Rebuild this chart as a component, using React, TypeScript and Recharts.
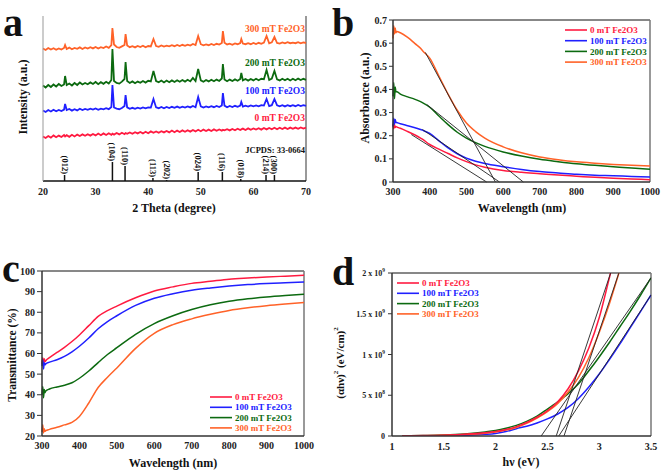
import React from 'react';
import { LineChart, Line, XAxis, YAxis, ReferenceLine } from 'recharts';

const FONT = '"Liberation Serif", "Times New Roman", serif';
const RED = '#ff1a40';
const BLUE = '#2020ff';
const GREEN = '#0c6a10';
const ORANGE = '#ff6228';

const seriesNames = ['0 mT Fe2O3', '100 mT Fe2O3', '200 mT Fe2O3', '300 mT Fe2O3'];
const seriesColors = [RED, BLUE, GREEN, ORANGE];

// ---- panel a: XRD (intensity in arbitrary offset units) ----
const xrdTheta = [
  20, 20.5, 21, 21.5, 22, 22.5, 23, 23.5, 24, 24.2,
  24.5, 25, 25.5, 26, 26.5, 27, 27.5, 28, 28.5, 29,
  29.5, 30, 30.5, 31, 31.5, 32, 32.5, 33, 33.2, 33.5,
  34, 34.5, 35, 35.5, 35.7, 36, 36.5, 37, 37.5, 38,
  38.5, 39, 39.5, 40, 40.5, 41, 41.5, 42, 42.5, 43,
  43.5, 44, 44.5, 45, 45.5, 46, 46.5, 47, 47.5, 48,
  48.5, 49, 49.5, 50, 50.5, 51, 51.5, 52, 52.5, 53,
  53.5, 54, 54.2, 54.5, 55, 55.5, 56, 56.5, 57, 57.5,
  57.7, 58, 58.5, 59, 59.5, 60, 60.5, 61, 61.5, 62,
  62.5, 63, 63.5, 64, 64.5, 65, 65.5, 66, 66.5, 67,
  67.5, 68, 68.5, 69, 69.5, 70,
];
const xrd300 = [
  132.5, 131, 133, 131.5, 132.8, 131.2, 132.6, 131.4, 133, 136,
  132, 133.4, 131.8, 133, 132.2, 133.6, 132, 133.5, 132.4, 133.8,
  132.6, 134, 132.5, 133.8, 133, 134.5, 133.2, 136, 153, 136.5,
  134, 133.2, 134.6, 136, 147, 135.5, 133.8, 134.8, 133.6, 135,
  134, 135.2, 133.8, 135, 134.6, 142, 135, 134.2, 135.6, 134.4,
  135.4, 134.6, 135.8, 134.8, 136, 135, 136.2, 135.2, 136.4, 135.4,
  137, 136, 145, 136.8, 135.6, 136.6, 135.8, 137, 136, 137.2,
  136.4, 138, 150, 138.2, 136.6, 137.4, 136.2, 137.6, 136.8, 138,
  142, 137.4, 136.8, 137.8, 136.8, 138, 137, 138.2, 137.2, 138.4,
  145, 137.6, 138.6, 144, 138, 137.4, 138.6, 137.6, 138.8, 137.8,
  138.4, 137.8, 138.8, 137.6, 138.6, 138,
];
const xrd200 = [
  95.5, 93.5, 96, 94, 96.5, 94.5, 97, 95, 96.5, 105,
  96, 97.5, 95.5, 98, 96, 98.5, 96.5, 98, 96.8, 98.6,
  97, 99, 96.8, 98.8, 97.2, 99.2, 97.4, 101, 132, 100,
  98, 97.4, 99.4, 102, 119, 100, 98, 99.6, 97.8, 99.4,
  98.2, 100, 98.4, 100.2, 99.6, 110, 100, 98.8, 100.4, 98.6,
  100.4, 98.8, 100.6, 99, 100.8, 99.2, 101, 99.4, 101.2, 99.6,
  103, 100, 112, 100.6, 99.2, 101, 99.6, 101.2, 99.8, 101.4,
  100, 102.5, 117, 101.5, 99.8, 101.4, 100, 101.6, 100.2, 102,
  108, 100.6, 102, 100.4, 102, 100.6, 102.2, 100.8, 102.2, 101.8,
  111, 101, 102.4, 110, 101.6, 100.6, 102.2, 100.8, 102.2, 100.6,
  102.2, 100.8, 102.4, 101, 102.2, 101.2,
];
const xrd100 = [
  70.5, 69, 71, 69.5, 71.2, 69.8, 71, 70, 71.4, 77,
  71, 72, 70.4, 71.8, 70.6, 72.2, 71, 72, 71.2, 72.4,
  71.4, 72.6, 71.2, 72.4, 71.6, 72.8, 71.8, 74, 96, 73.5,
  72.4, 71.8, 73, 75, 86, 73.6, 72.2, 73.2, 72.2, 73.4,
  72.4, 73.6, 72.6, 73.6, 73.4, 82, 73.6, 72.8, 74, 72.8,
  74, 73, 74.2, 73.2, 74.4, 73.2, 74.4, 73.4, 74.6, 73.6,
  75, 73.8, 84, 74.6, 73.4, 74.6, 73.6, 74.8, 73.8, 75,
  74, 75.5, 88, 75.4, 73.8, 75, 74, 75.2, 74.2, 75.4,
  79, 74.4, 75.4, 74.4, 75.6, 74.6, 75.6, 74.6, 75.8, 75.4,
  82, 74.8, 75.8, 82, 75.6, 74.6, 75.8, 74.6, 75.8, 74.8,
  75.8, 74.8, 76, 75, 75.8, 75.2,
];
const xrd0 = [
  44.5, 43, 45, 43.4, 45.6, 43.8, 45.4, 44, 46, 44.6,
  45.8, 44.2, 46.2, 44.6, 46.4, 45, 46.6, 45.2, 46.8, 45.4,
  47, 45.6, 47.4, 45.8, 47.6, 46, 47.8, 46.2, 47.4, 46.4,
  48, 46.6, 48.2, 46.8, 48, 47.2, 48.6, 47.2, 48.8, 47.6,
  49, 47.6, 49.2, 47.8, 49.6, 48.2, 49.6, 48.2, 49.8, 48.6,
  50, 48.6, 50.4, 48.8, 50.4, 49, 50.6, 49.2, 50.8, 49.4,
  51, 49.6, 51.2, 49.8, 51.4, 50, 51.4, 50, 51.6, 50.2,
  51.6, 50.4, 51.2, 50.6, 51.8, 50.6, 52, 50.8, 52.2, 51,
  51.6, 52.4, 51, 52.6, 51.2, 52.6, 51.4, 52.8, 51.4, 53,
  51.6, 53, 51.8, 53.2, 51.8, 53.2, 52, 53.4, 52, 53.4,
  52.2, 53.4, 52.2, 53.6, 52.4, 53.4,
];
const xrdTicks = [20, 30, 40, 50, 60, 70];
const hklTheta = [24.1, 33.2, 35.6, 40.9, 43.5, 49.5, 54.1, 57.6, 62.4, 64.0];
const hklHeight = [6, 19, 15, 3, 1, 9, 9, 2, 6, 6];
const hklLabels = ['(012)', '(104)', '(110)', '(113)', '(202)', '(024)', '(116)', '(018)', '(214)', '(300)'];

// ---- panel b: absorbance ----
const absWl = [300, 302, 304, 306, 308, 310, 320, 340, 360, 375, 380, 400, 425, 450, 475, 500, 525, 550, 600, 650, 700, 750, 800, 850, 900, 950, 1000];
const abs0 = [0.25, 0.23, 0.248, 0.235, 0.24, 0.238, 0.232, 0.218, 0.203, 0.19, 0.185, 0.162, 0.142, 0.123, 0.104, 0.088, 0.074, 0.064, 0.05, 0.042, 0.036, 0.03, 0.025, 0.02, 0.016, 0.013, 0.01];
const abs100 = [0.24, 0.275, 0.25, 0.27, 0.258, 0.257, 0.252, 0.243, 0.234, 0.227, 0.224, 0.21, 0.178, 0.147, 0.122, 0.103, 0.09, 0.08, 0.066, 0.054, 0.045, 0.039, 0.033, 0.029, 0.027, 0.024, 0.022];
const abs200 = [0.37, 0.43, 0.36, 0.41, 0.39, 0.39, 0.38, 0.368, 0.357, 0.347, 0.343, 0.323, 0.285, 0.248, 0.215, 0.19, 0.17, 0.154, 0.13, 0.112, 0.098, 0.088, 0.079, 0.072, 0.066, 0.06, 0.055];
const abs300 = [0.62, 0.675, 0.64, 0.665, 0.645, 0.65, 0.645, 0.625, 0.598, 0.578, 0.568, 0.535, 0.458, 0.38, 0.31, 0.255, 0.218, 0.19, 0.152, 0.126, 0.108, 0.096, 0.087, 0.081, 0.076, 0.072, 0.069];
const absTicks = [0, 0.1, 0.2, 0.3, 0.4, 0.5, 0.6, 0.7];
const wlTicks = [300, 400, 500, 600, 700, 800, 900, 1000];
// tangent lines: [start wavelength, start absorbance, x-intercept]
const absTangents = [
  [350, 0.205, 555],
  [380, 0.227, 590],
  [392, 0.335, 655],
  [388, 0.56, 579],
];

// ---- panel c: transmittance ----
const trWl = [300, 302, 304, 306, 308, 310, 320, 340, 360, 380, 400, 425, 450, 475, 500, 550, 600, 650, 700, 750, 800, 850, 900, 950, 1000];
const tr0 = [55, 58, 55.5, 57.5, 56, 56.5, 58, 60.5, 63, 65.8, 69, 73.5, 78, 80.8, 83, 87, 90.3, 92.3, 94, 95, 96, 96.6, 97.1, 97.5, 97.9];
const tr100 = [54, 57, 52.5, 55.5, 54.5, 55, 55.8, 57, 58.6, 60.8, 63.5, 67.5, 72, 75.5, 78.3, 83.3, 86.8, 89, 90.7, 91.8, 92.7, 93.4, 93.9, 94.3, 94.7];
const tr200 = [40, 44, 38.5, 42.5, 41, 41.8, 42.8, 43.8, 44.6, 45.8, 48, 51.5, 55.6, 59.5, 62.8, 69.3, 74.5, 78.3, 81.3, 83.6, 85.3, 86.5, 87.4, 88.1, 88.7];
const tr300 = [22, 25.5, 21.5, 23.5, 22.3, 22.6, 23.2, 24.2, 25.4, 26.6, 29.5, 36, 43.5, 48.5, 53, 62.5, 69.8, 74, 76.8, 79, 80.9, 82.2, 83.2, 84, 84.7];
const trTicks = [20, 30, 40, 50, 60, 70, 80, 90, 100];

// ---- panel d: Tauc plot, (ahv)^2 in units of 1e8 ----
const evShort0 = [1.1, 1.3, 1.5, 1.7, 1.9, 2.0, 2.1, 2.2, 2.3, 2.4, 2.5, 2.6, 2.7, 2.8, 2.9, 3.0, 3.1, 3.11];
const tauc0 = [0.03, 0.05, 0.1, 0.2, 0.4, 0.55, 0.8, 1.15, 1.65, 2.3, 3.1, 4.2, 5.8, 8.0, 10.8, 14.5, 19.5, 20];
const evShort300 = [1.1, 1.3, 1.5, 1.7, 1.9, 2.0, 2.1, 2.2, 2.3, 2.4, 2.5, 2.6, 2.7, 2.8, 2.9, 3.0, 3.1, 3.19];
const tauc300 = [0.02, 0.04, 0.08, 0.17, 0.35, 0.5, 0.72, 1.05, 1.55, 2.2, 3.0, 4.0, 5.4, 7.2, 9.6, 12.7, 16.3, 20];
const evFull = [1.1, 1.3, 1.5, 1.7, 1.9, 2.0, 2.1, 2.2, 2.3, 2.4, 2.5, 2.6, 2.7, 2.8, 2.9, 3.0, 3.1, 3.2, 3.3, 3.4, 3.5];
const tauc200 = [0.02, 0.06, 0.12, 0.25, 0.5, 0.68, 0.95, 1.3, 1.8, 2.45, 3.3, 4.2, 5.2, 6.4, 8.0, 9.7, 11.5, 13.4, 15.3, 17.3, 19.4];
const tauc100 = [0, 0.01, 0.03, 0.08, 0.2, 0.32, 0.55, 0.9, 1.2, 1.6, 2.1, 2.7, 3.5, 4.6, 6.0, 7.6, 9.4, 11.3, 13.3, 15.3, 17.3];
const evTicks = [1, 1.5, 2, 2.5, 3, 3.5];
const taucTicks = [0, 5, 10, 15, 20];
const taucMant = ['0', '5', '1', '1.5', '2'];
const taucExp = ['', '8', '9', '9', '9'];
// tangent lines: [x-intercept, end eV, end value]
const taucTangents = [
  [2.585, 3.11, 20],
  [2.61, 3.5, 17.3],
  [2.44, 3.5, 19.4],
  [2.66, 3.19, 20],
];

const tickStyle = { fill: '#222', fontSize: 10, fontWeight: 700, fontFamily: FONT };
const bold = (size: number) => ({ fontFamily: FONT, fontSize: size, fontWeight: 700 });

const HklLabel = (props: any) => {
  const vb = props.viewBox || {};
  return (
    <text
      transform={`translate(${vb.x},${vb.y - 1}) rotate(90)`}
      textAnchor="end"
      dominantBaseline="central"
      fill="#111"
      style={bold(8.5)}
    >
      {props.value}
    </text>
  );
};

const TaucTick = (props: any) => {
  const { x, y, payload } = props;
  const i = taucTicks.indexOf(payload.value);
  return (
    <text x={x} y={y} dy={3} textAnchor="end" fill="#222" style={bold(8)}>
      {taucMant[i]}
      {i > 0 ? ' x 10' : ''}
      {i > 0 ? (
        <tspan dy={-4} fontSize={5.5}>
          {taucExp[i]}
        </tspan>
      ) : null}
    </text>
  );
};

const Legend4 = ({ x, y, gap }: { x: number; y: number; gap: number }) => (
  <g>
    {seriesNames.map((n, i) => (
      <g key={n}>
        <line x1={x} x2={x + 22} y1={y + i * gap} y2={y + i * gap} stroke={seriesColors[i]} strokeWidth={1.6} />
        <text x={x + 25} y={y + i * gap} dy="0.35em" fill={seriesColors[i]} style={bold(9)}>
          {n}
        </text>
      </g>
    ))}
  </g>
);

const VText = ({ x, y, size, children }: any) => (
  <text transform={`translate(${x},${y}) rotate(-90)`} textAnchor="middle" dominantBaseline="central" fill="#111" style={bold(size)}>
    {children}
  </text>
);

export default function App() {
  const xrdData = xrdTheta.map((t, i) => ({ theta: t, s0: xrd0[i], s100: xrd100[i], s200: xrd200[i], s300: xrd300[i] }));
  const absData = absWl.map((w, i) => ({ w, a0: abs0[i], a100: abs100[i], a200: abs200[i], a300: abs300[i] }));
  const trData = trWl.map((w, i) => ({ w, t0: tr0[i], t100: tr100[i], t200: tr200[i], t300: tr300[i] }));
  const d0 = evShort0.map((e, i) => ({ ev: e, v: tauc0[i] }));
  const d300 = evShort300.map((e, i) => ({ ev: e, v: tauc300[i] }));
  const d100 = evFull.map((e, i) => ({ ev: e, v: tauc100[i] }));
  const d200 = evFull.map((e, i) => ({ ev: e, v: tauc200[i] }));

  const axisLine = { stroke: '#333', strokeWidth: 1.5 };

  return (
    <div style={{ position: 'absolute', left: 0, top: 0, width: 661, height: 471, background: '#fff' }}>
      {/* panel a */}
      <div style={{ position: 'absolute', left: 0, top: 0 }}>
        <LineChart width={330} height={215} data={xrdData} margin={{ top: 16, right: 24, bottom: 0, left: 0 }}>
          <XAxis dataKey="theta" type="number" domain={[20, 70]} ticks={xrdTicks} interval={0} height={34}
            tickLine={false} tickSize={0} tickMargin={7} axisLine={{ stroke: '#111', strokeWidth: 1.5 }} tick={tickStyle} />
          <YAxis type="number" domain={[0, 165]} allowDataOverflow width={43} tick={false} tickLine={false}
            axisLine={{ stroke: '#999', strokeWidth: 1 }} />
          <ReferenceLine x={70} stroke="#777" strokeWidth={1.5} />
          {hklTheta.map((t, i) => (
            <ReferenceLine key={hklLabels[i]} segment={[{ x: t, y: 0 }, { x: t, y: hklHeight[i] }]}
              stroke="#111" strokeWidth={1.5} label={<HklLabel value={hklLabels[i]} />} />
          ))}
          <Line dataKey="s0" type="linear" stroke={RED} strokeWidth={1.8} dot={false} isAnimationActive={false} />
          <Line dataKey="s100" type="linear" stroke={BLUE} strokeWidth={1.8} dot={false} isAnimationActive={false} />
          <Line dataKey="s200" type="linear" stroke={GREEN} strokeWidth={1.8} dot={false} isAnimationActive={false} />
          <Line dataKey="s300" type="linear" stroke={ORANGE} strokeWidth={1.8} dot={false} isAnimationActive={false} />
        </LineChart>
      </div>

      {/* panel b */}
      <div style={{ position: 'absolute', left: 330, top: 0 }}>
        <LineChart width={331} height={215} data={absData} margin={{ top: 20, right: 11, bottom: 0, left: 0 }}>
          <XAxis dataKey="w" type="number" domain={[300, 1000]} ticks={wlTicks} interval={0} height={33}
            tickLine={false} tickSize={0} tickMargin={6} axisLine={axisLine} tick={tickStyle} />
          <YAxis type="number" domain={[0, 0.7]} allowDataOverflow ticks={absTicks} interval={0} width={63}
            tickSize={4} tickMargin={2} tickLine={{ stroke: '#333' }} axisLine={axisLine} tick={tickStyle}
            tickFormatter={(v: number) => (v === 0 ? '0' : v.toFixed(1))} />
          <ReferenceLine y={0.7} stroke="#111" strokeWidth={1} />
          <ReferenceLine x={1000} stroke="#777" strokeWidth={1.5} />
          <Line dataKey="a0" type="monotone" stroke={RED} strokeWidth={1.5} dot={false} isAnimationActive={false} />
          <Line dataKey="a100" type="monotone" stroke={BLUE} strokeWidth={1.5} dot={false} isAnimationActive={false} />
          <Line dataKey="a200" type="monotone" stroke={GREEN} strokeWidth={1.5} dot={false} isAnimationActive={false} />
          <Line dataKey="a300" type="monotone" stroke={ORANGE} strokeWidth={1.5} dot={false} isAnimationActive={false} />
          {absTangents.map((t, i) => (
            <ReferenceLine key={'bt' + i} segment={[{ x: t[0], y: t[1] }, { x: t[2], y: 0 }]} stroke="#222" strokeWidth={0.9} />
          ))}
        </LineChart>
      </div>

      {/* panel c */}
      <div style={{ position: 'absolute', left: 0, top: 235 }}>
        <LineChart width={330} height={236} data={trData} margin={{ top: 36, right: 26, bottom: 0, left: 0 }}>
          <XAxis dataKey="w" type="number" domain={[300, 1000]} ticks={wlTicks} interval={0} height={35}
            tickLine={false} tickSize={0} tickMargin={6} axisLine={axisLine} tick={tickStyle} />
          <YAxis type="number" domain={[20, 100]} allowDataOverflow ticks={trTicks} interval={0} width={42}
            tickSize={5} tickMargin={2} tickLine={{ stroke: '#333' }} axisLine={axisLine} tick={tickStyle} />
          <ReferenceLine y={100} stroke="#111" strokeWidth={1} />
          <ReferenceLine x={1000} stroke="#777" strokeWidth={1.5} />
          <Line dataKey="t0" type="monotone" stroke={RED} strokeWidth={1.5} dot={false} isAnimationActive={false} />
          <Line dataKey="t100" type="monotone" stroke={BLUE} strokeWidth={1.5} dot={false} isAnimationActive={false} />
          <Line dataKey="t200" type="monotone" stroke={GREEN} strokeWidth={1.5} dot={false} isAnimationActive={false} />
          <Line dataKey="t300" type="monotone" stroke={ORANGE} strokeWidth={1.5} dot={false} isAnimationActive={false} />
        </LineChart>
      </div>

      {/* panel d */}
      <div style={{ position: 'absolute', left: 330, top: 235 }}>
        <LineChart width={331} height={236} margin={{ top: 38, right: 10, bottom: 0, left: 0 }}>
          <XAxis dataKey="ev" type="number" domain={[1, 3.5]} ticks={evTicks} interval={0} height={35}
            tickLine={false} tickSize={0} tickMargin={7} axisLine={axisLine} tick={tickStyle} allowDataOverflow />
          <YAxis type="number" domain={[0, 20]} allowDataOverflow ticks={taucTicks} interval={0} width={62}
            tickSize={4} tickMargin={3} tickLine={{ stroke: '#333' }} axisLine={axisLine} tick={<TaucTick />} />
          <ReferenceLine y={20} stroke="#111" strokeWidth={1} />
          <ReferenceLine x={3.5} stroke="#777" strokeWidth={1.5} />
          <Line data={d100} dataKey="v" type="monotone" stroke={BLUE} strokeWidth={1.5} dot={false} isAnimationActive={false} />
          <Line data={d200} dataKey="v" type="monotone" stroke={GREEN} strokeWidth={1.5} dot={false} isAnimationActive={false} />
          <Line data={d300} dataKey="v" type="monotone" stroke={ORANGE} strokeWidth={1.5} dot={false} isAnimationActive={false} />
          <Line data={d0} dataKey="v" type="monotone" stroke={RED} strokeWidth={1.5} dot={false} isAnimationActive={false} />
          {taucTangents.map((t, i) => (
            <ReferenceLine key={'dt' + i} segment={[{ x: t[0], y: 0 }, { x: t[1], y: t[2] }]} stroke="#222" strokeWidth={0.9} />
          ))}
        </LineChart>
      </div>

      {/* annotations */}
      <svg width={661} height={471} style={{ position: 'absolute', left: 0, top: 0, pointerEvents: 'none' }}>
        <text x={3} y={36} fill="#111" style={bold(40)}>a</text>
        <text x={332} y={36} fill="#111" style={bold(40)}>b</text>
        <text x={2} y={282} fill="#111" style={bold(40)}>c</text>
        <text x={332} y={285} fill="#111" style={bold(40)}>d</text>

        <text x={305} y={29} dy="0.35em" textAnchor="end" fill={ORANGE} style={bold(9.5)}>{seriesNames[3]}</text>
        <text x={305} y={63} dy="0.35em" textAnchor="end" fill={GREEN} style={bold(9.5)}>{seriesNames[2]}</text>
        <text x={305} y={91} dy="0.35em" textAnchor="end" fill={BLUE} style={bold(9.5)}>{seriesNames[1]}</text>
        <text x={305} y={118} dy="0.35em" textAnchor="end" fill={RED} style={bold(9.5)}>{seriesNames[0]}</text>
        <text x={305} y={150} dy="0.35em" textAnchor="end" fill="#111" style={bold(8.5)}>JCPDS: 33-0664</text>

        <VText x={23} y={97} size={12}>Intensity (a.u.)</VText>
        <text x={174} y={208} dy="0.35em" textAnchor="middle" fill="#111" style={bold(12)}>2 Theta (degree)</text>

        <VText x={365} y={98} size={12}>Absorbance (a.u.)</VText>
        <text x={522} y={208} dy="0.35em" textAnchor="middle" fill="#111" style={bold(12)}>Wavelength (nm)</text>
        <Legend4 x={565} y={30} gap={10.7} />

        <VText x={12} y={355} size={11.5}>Transmittance (%)</VText>
        <text x={173} y={463} dy="0.35em" textAnchor="middle" fill="#111" style={bold(12)}>Wavelength (nm)</text>
        <Legend4 x={210} y={397} gap={10.3} />

        <text transform="translate(340,363) rotate(-90)" textAnchor="middle" dominantBaseline="central" fill="#111" style={bold(11)}>
          (αhν)<tspan dy={-4} fontSize={7}>2</tspan>
          <tspan dy={4}> (eV/cm)</tspan>
          <tspan dy={-4} fontSize={7}>2</tspan>
        </text>
        <text x={521} y={462} dy="0.35em" textAnchor="middle" fill="#111" style={bold(12)}>hν (eV)</text>
        <Legend4 x={397} y={283} gap={10.3} />
      </svg>
    </div>
  );
}
